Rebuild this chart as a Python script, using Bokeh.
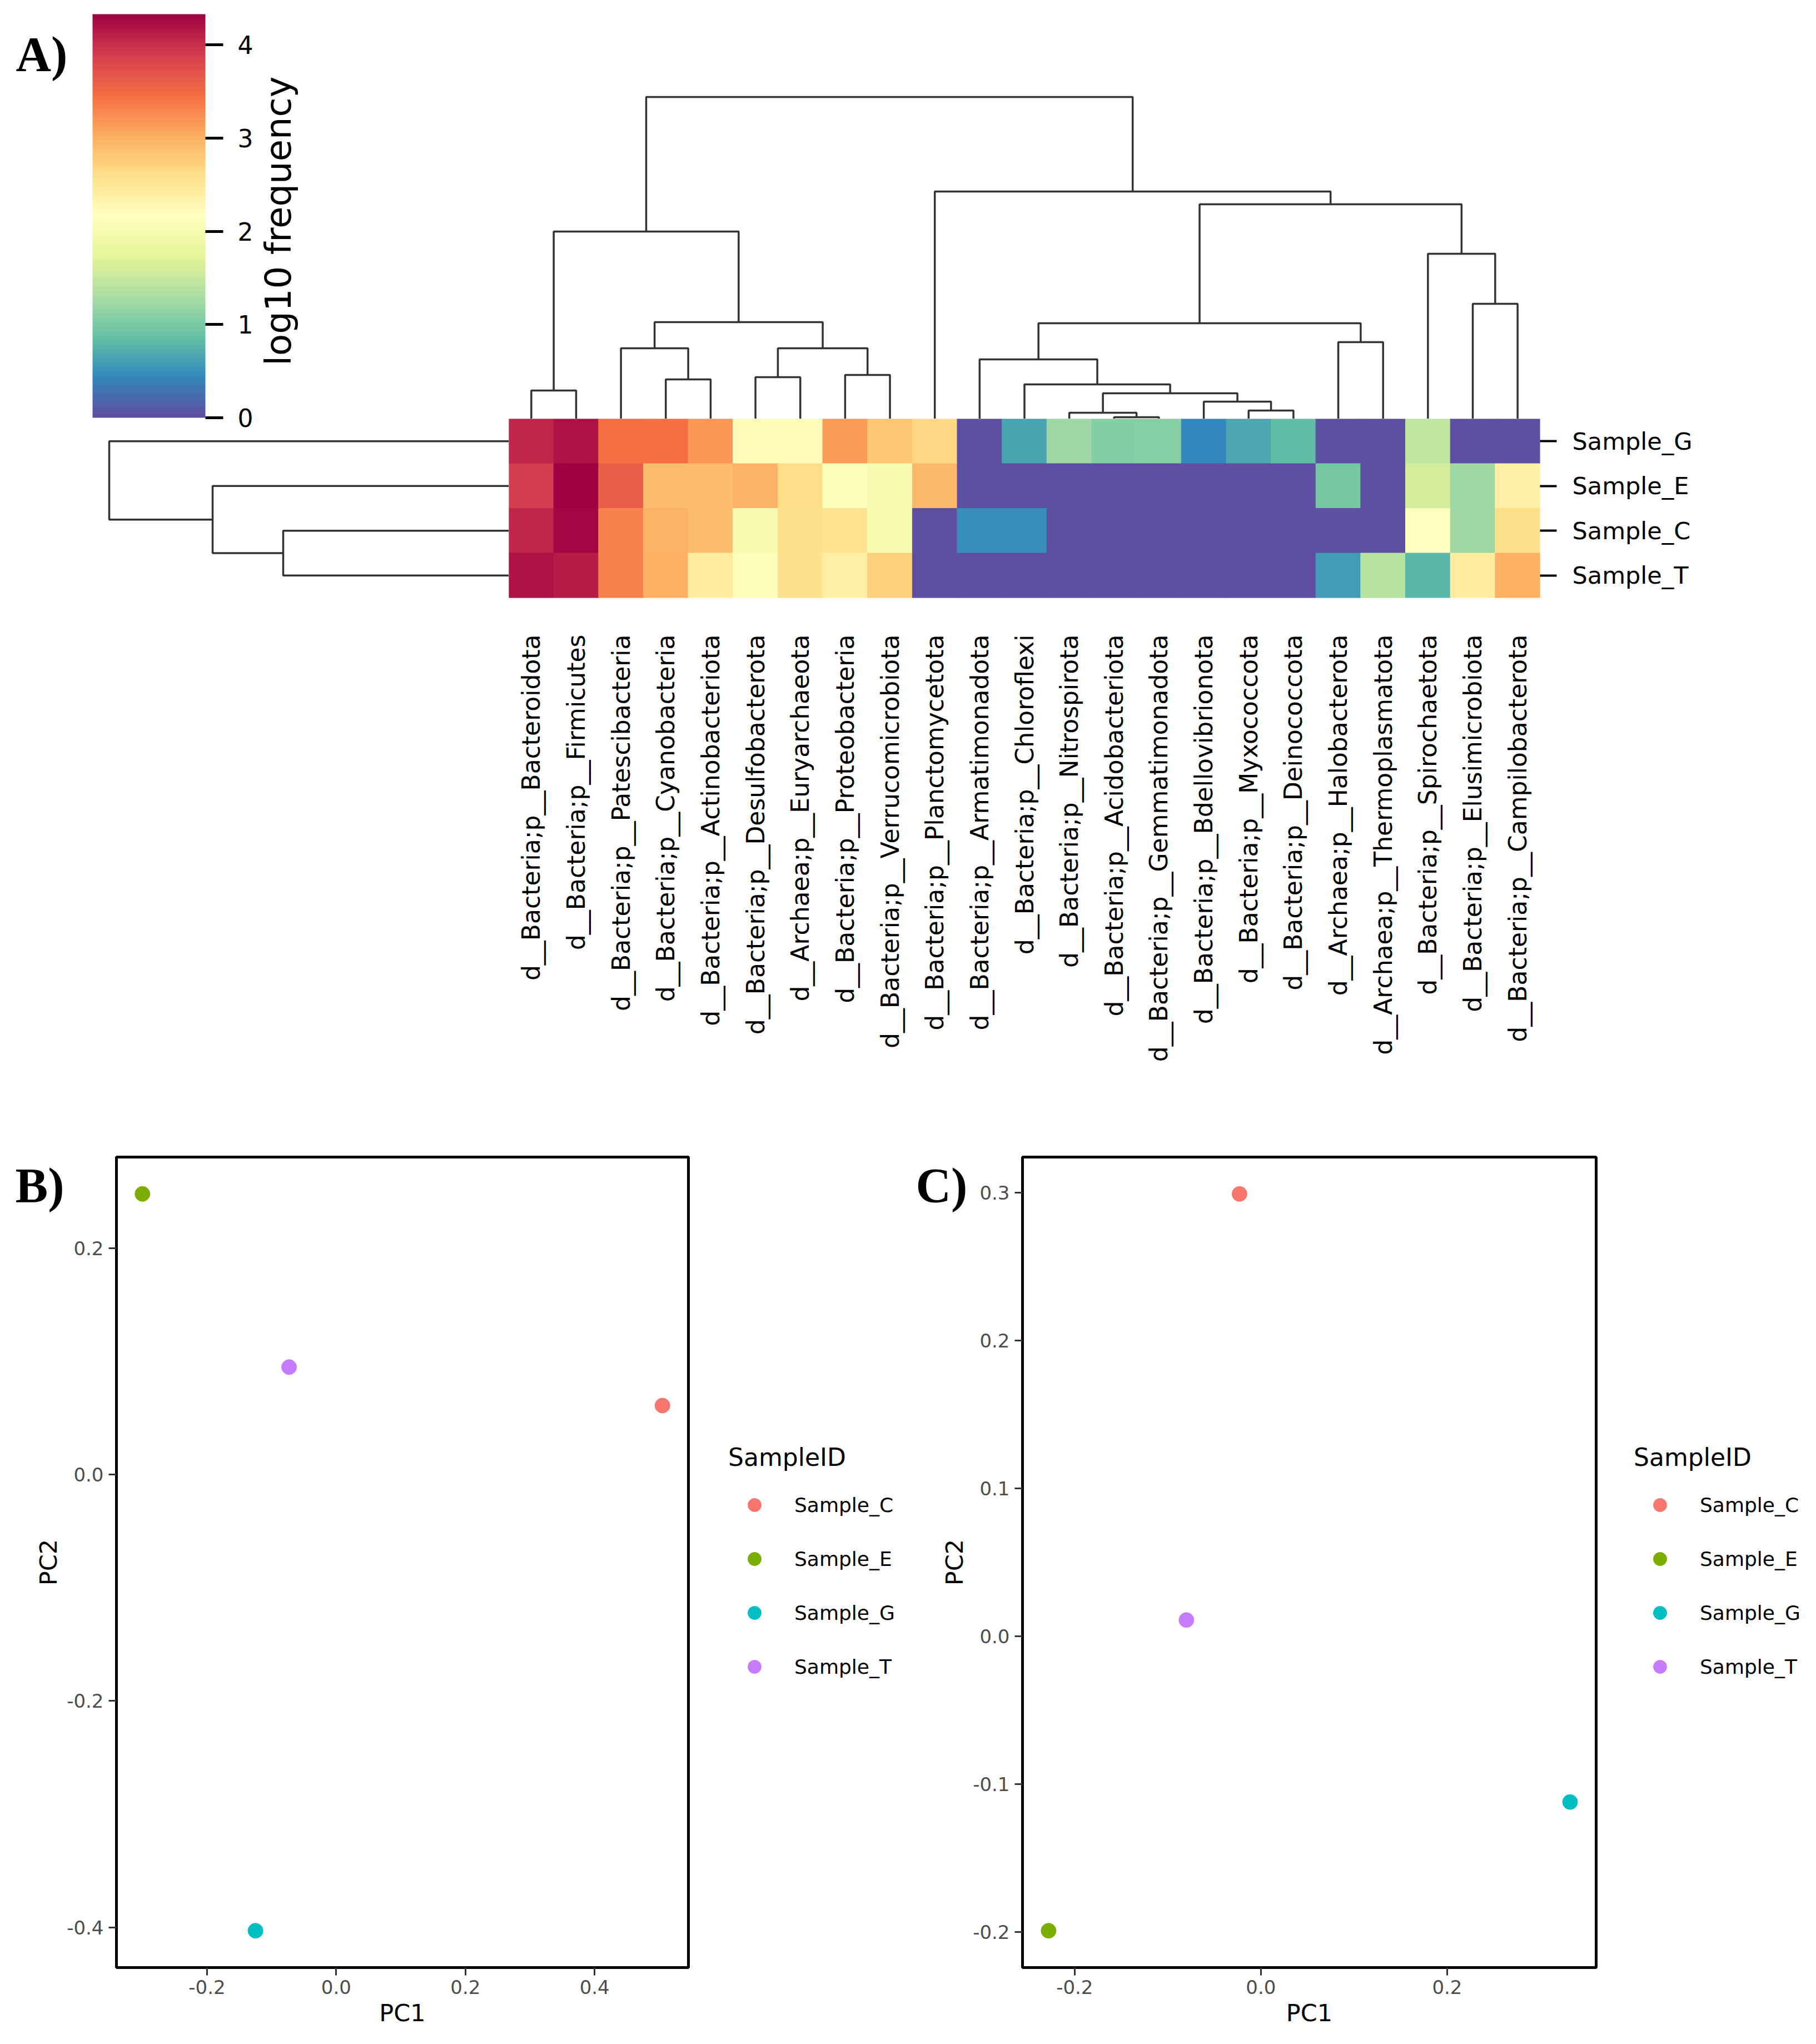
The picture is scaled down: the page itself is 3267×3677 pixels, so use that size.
import numpy as np
from bokeh.plotting import figure
from bokeh.models import (ColumnDataSource, FactorRange, Range1d, LinearColorMapper, ColorBar,
                          FixedTicker, Label, Legend, LegendItem, NumeralTickFormatter)
from bokeh.layouts import column, row
from bokeh.transform import linear_cmap
from bokeh.embed import file_html
from bokeh.resources import INLINE

# ---------------- data ----------------
phyla = [
    "d__Bacteria;p__Bacteroidota", "d__Bacteria;p__Firmicutes", "d__Bacteria;p__Patescibacteria",
    "d__Bacteria;p__Cyanobacteria", "d__Bacteria;p__Actinobacteriota", "d__Bacteria;p__Desulfobacterota",
    "d__Archaea;p__Euryarchaeota", "d__Bacteria;p__Proteobacteria", "d__Bacteria;p__Verrucomicrobiota",
    "d__Bacteria;p__Planctomycetota", "d__Bacteria;p__Armatimonadota", "d__Bacteria;p__Chloroflexi",
    "d__Bacteria;p__Nitrospirota", "d__Bacteria;p__Acidobacteriota", "d__Bacteria;p__Gemmatimonadota",
    "d__Bacteria;p__Bdellovibrionota", "d__Bacteria;p__Myxococcota", "d__Bacteria;p__Deinococcota",
    "d__Archaea;p__Halobacterota", "d__Archaea;p__Thermoplasmatota", "d__Bacteria;p__Spirochaetota",
    "d__Bacteria;p__Elusimicrobiota", "d__Bacteria;p__Campilobacterota",
]
heat_samples = ["Sample_G", "Sample_E", "Sample_C", "Sample_T"]
log_G = [4.07, 4.20, 3.46, 3.45, 3.18, 2.22, 2.23, 3.16, 2.84, 2.66, 0.0, 0.65, 1.23, 1.06, 1.07, 0.43, 0.66, 0.83, 0.0, 0.0, 1.47, 0.0, 0.0]
log_E = [3.90, 4.33, 3.60, 2.90, 2.90, 2.99, 2.62, 2.10, 2.00, 2.94, 0.0, 0.0, 0.0, 0.0, 0.0, 0.0, 0.0, 0.0, 0.97, 0.0, 1.60, 1.23, 2.38]
log_C = [4.07, 4.29, 3.33, 2.98, 2.90, 2.01, 2.58, 2.55, 2.00, 0.0, 0.48, 0.48, 0.0, 0.0, 0.0, 0.0, 0.0, 0.0, 0.0, 0.0, 2.17, 1.23, 2.60]
log_T = [4.20, 4.13, 3.33, 3.00, 2.42, 2.19, 2.58, 2.38, 2.73, 0.0, 0.0, 0.0, 0.0, 0.0, 0.0, 0.0, 0.0, 0.0, 0.58, 1.40, 0.78, 2.42, 3.00]
cbar_ticks = [0, 1, 2, 3, 4]

# column dendrogram: (child a, child b, distance); ids >= 23 are earlier merges
col_merges = [
    (0, 1, 0.51), (3, 4, 0.71), (2, 24, 1.27), (5, 6, 0.75), (7, 8, 0.79), (26, 27, 1.27),
    (25, 28, 1.74), (23, 29, 3.37), (13, 14, 0.03), (12, 31, 0.11), (16, 17, 0.15), (15, 33, 0.31),
    (32, 34, 0.46), (11, 35, 0.62), (10, 36, 1.07), (18, 19, 1.38), (37, 38, 1.72), (21, 22, 2.07),
    (20, 40, 2.97), (39, 41, 3.86), (9, 42, 4.09), (30, 43, 5.79),
]
# row dendrogram (leaves: G=0, E=1, C=2, T=3)
row_merges = [(2, 3, 4.06), (1, 4, 5.33), (0, 5, 7.19)]

pcoa_samples = ["Sample_C", "Sample_E", "Sample_G", "Sample_T"]
pcoa_colors = ["#F8766D", "#7CAE00", "#00BFC4", "#C77CFF"]
b_pc1 = [0.505, -0.300, -0.125, -0.073]
b_pc2 = [0.061, 0.248, -0.403, 0.095]
c_pc1 = [-0.023, -0.228, 0.332, -0.080]
c_pc2 = [0.299, -0.199, -0.112, 0.011]
b_xticks = [-0.2, 0.0, 0.2, 0.4]
b_yticks = [-0.4, -0.2, 0.0, 0.2]
c_xticks = [-0.2, 0.0, 0.2]
c_yticks = [-0.2, -0.1, 0.0, 0.1, 0.2, 0.3]

# ---------------- helpers ----------------
SPECTRAL = ["#9e0142", "#d53e4f", "#f46d43", "#fdae61", "#fee08b", "#ffffbf",
            "#e6f598", "#abdda4", "#66c2a5", "#3288bd", "#5e4fa2"][::-1]


def interp_palette(pal, n):
    rgb = np.array([[int(c[i:i + 2], 16) for i in (1, 3, 5)] for c in pal], float)
    k = np.linspace(0, 1, len(pal))
    t = np.linspace(0, 1, n)
    out = np.stack([np.interp(t, k, rgb[:, j]) for j in range(3)], 1)
    return ["#%02x%02x%02x" % tuple(int(round(v)) for v in r) for r in out]


PAL = interp_palette(SPECTRAL, 256)
SANS = "DejaVu Sans"
SERIF = "Liberation Serif"
LINE = "#333333"


def dendro_segments(merges, leaf_pos):
    n = len(leaf_pos)
    pos = {i: float(leaf_pos[i]) for i in range(n)}
    ht = {i: 0.0 for i in range(n)}
    along, depth = [], []
    for k, (a, b, h) in enumerate(merges):
        along.append([pos[a], pos[a], pos[b], pos[b]])
        depth.append([ht[a], h, h, ht[b]])
        pos[n + k] = (pos[a] + pos[b]) / 2
        ht[n + k] = h
    return along, depth


def bare(p, transparent=False):
    p.outline_line_color = None
    if transparent:
        p.background_fill_color = None
        p.border_fill_color = None
    else:
        p.background_fill_color = "white"
        p.border_fill_color = "white"
    for g in p.grid:
        g.visible = False


# ---------------- panel A ----------------
values_by_row = [log_G, log_E, log_C, log_T]
vmax = max(max(r) for r in values_by_row)

TOP_ROW_H = 753
LEFT_W = 915
HEAT_W = 1855
ROW_PX = 80.5
HEAT_H = 322
RIGHT_B = 481
BOTTOM_B = 965
nrow = len(heat_samples)
ncol = len(phyla)

# left figure: colour bar + row dendrogram
left_frame_h = TOP_ROW_H + HEAT_H
fig_left = figure(width=LEFT_W, height=left_frame_h + BOTTOM_B,
                  x_range=Range1d(LEFT_W / 100.0, 0), y_range=Range1d(0, left_frame_h / ROW_PX),
                  x_axis_location=None, y_axis_location=None, toolbar_location=None,
                  output_backend="svg", title=None, min_border=0, min_border_bottom=BOTTOM_B)
bare(fig_left)
rleaf = [nrow - 1 - i + 0.5 for i in range(nrow)]
ry, rx = dendro_segments(row_merges, rleaf)
fig_left.multi_line(xs=rx, ys=ry, line_color=LINE, line_width=3.5)

mapper = LinearColorMapper(palette=PAL, low=0, high=vmax)
cb = ColorBar(color_mapper=mapper, location=(166, HEAT_H + 2), width=203, height=726, padding=0, margin=0,
              ticker=FixedTicker(ticks=cbar_ticks), major_tick_in=0, major_tick_out=32,
              major_tick_line_color="black", major_tick_line_width=5, minor_tick_line_color=None,
              label_standoff=26, major_label_text_font=SANS, major_label_text_font_size="44px",
              major_label_text_color="black", bar_line_color=None, border_line_color=None,
              background_fill_color=None)
fig_left.add_layout(cb)
fig_left.add_layout(Label(x=500, y=left_frame_h - 397, x_units="screen", y_units="screen",
                          text="log10 frequency", angle=np.pi / 2, text_align="center",
                          text_baseline="middle", text_font=SANS, text_font_size="64px",
                          text_color="black"))
fig_left.add_layout(Label(x=28, y=left_frame_h - 97, x_units="screen", y_units="screen", text="A)",
                          text_align="left", text_baseline="alphabetic", text_font=SERIF,
                          text_font_style="bold", text_font_size="88px", text_color="black"))

# column dendrogram
cx, cy = dendro_segments(col_merges, list(range(ncol)))
fig_cd = figure(width=HEAT_W + RIGHT_B, height=TOP_ROW_H,
                x_range=Range1d(-0.5, ncol - 0.5), y_range=Range1d(0, TOP_ROW_H / 100.0),
                x_axis_location=None, y_axis_location=None, toolbar_location=None,
                output_backend="svg", title=None, min_border=0, min_border_right=RIGHT_B)
bare(fig_cd)
fig_cd.multi_line(xs=cx, ys=cy, line_color=LINE, line_width=3.5)

# heatmap
hx, hy, hv = [], [], []
for s, vals in zip(heat_samples, values_by_row):
    for ph, v in zip(phyla, vals):
        hx.append(ph)
        hy.append(s)
        hv.append(v)
src = ColumnDataSource(dict(phylum=hx, sample=hy, value=hv))
fig_h = figure(width=HEAT_W + RIGHT_B, height=HEAT_H + BOTTOM_B,
               x_range=FactorRange(factors=phyla), y_range=FactorRange(factors=heat_samples[::-1]),
               x_axis_location="below", y_axis_location="right", toolbar_location=None,
               output_backend="svg", title=None, min_border=0,
               min_border_right=RIGHT_B, min_border_bottom=BOTTOM_B)
bare(fig_h)
cmap = linear_cmap("value", PAL, 0, vmax)
fig_h.rect(x="phylum", y="sample", width=1, height=1, source=src,
           fill_color=cmap, line_color=cmap, line_width=1)
xa = fig_h.xaxis[0]
xa.major_label_orientation = np.pi / 2
xa.major_tick_line_color = None
xa.major_tick_out = 0
xa.major_tick_in = 0
xa.axis_line_color = None
xa.major_label_standoff = 66
xa.major_label_text_font = SANS
xa.major_label_text_font_size = "44px"
xa.major_label_text_color = "black"
ya = fig_h.yaxis[0]
ya.major_tick_out = 30
ya.major_tick_in = 0
ya.major_tick_line_color = "black"
ya.major_tick_line_width = 4
ya.axis_line_color = None
ya.major_label_standoff = 28
ya.major_label_text_font = SANS
ya.major_label_text_font_size = "43px"
ya.major_label_text_color = "black"


# ---------------- panels B and C ----------------
SECTION_H = 1621
FRAME_H = 1458
TOP_B = 41
BOT_B = SECTION_H - TOP_B - FRAME_H


def expand(vals, f=0.05):
    lo, hi = min(vals), max(vals)
    d = (hi - lo) * f
    return lo - d, hi + d


def pcoa_fig(pc1, pc2, xticks, yticks, left_b, frame_w, right_b):
    p = figure(width=left_b + frame_w + right_b, height=SECTION_H,
               x_range=Range1d(*expand(pc1)), y_range=Range1d(*expand(pc2)),
               toolbar_location=None, output_backend="svg", title=None,
               min_border_left=left_b, min_border_right=right_b,
               min_border_top=TOP_B, min_border_bottom=BOT_B)
    p.background_fill_color = "white"
    p.border_fill_color = "white"
    for g in p.grid:
        g.visible = False
    p.outline_line_color = "black"
    p.outline_line_width = 5
    for x, y, c in zip(pc1, pc2, pcoa_colors):
        p.scatter([x], [y], size=27, fill_color=c, line_color=c)
    for ax, ticks, lab in ((p.xaxis[0], xticks, "PC1"), (p.yaxis[0], yticks, "PC2")):
        ax.ticker = FixedTicker(ticks=ticks)
        ax.formatter = NumeralTickFormatter(format="0.0")
        ax.minor_tick_line_color = None
        ax.axis_line_color = None
        ax.major_tick_in = 0
        ax.major_tick_out = 14
        ax.major_tick_line_color = "#333333"
        ax.major_tick_line_width = 3
        ax.major_label_text_font = SANS
        ax.major_label_text_font_size = "34px"
        ax.major_label_text_color = "#4d4d4d"
        ax.axis_label = lab
        ax.axis_label_text_font = SANS
        ax.axis_label_text_font_size = "43px"
        ax.axis_label_text_font_style = "normal"
        ax.axis_label_text_color = "black"
    p.xaxis[0].major_label_standoff = 8
    p.xaxis[0].axis_label_standoff = 6
    p.yaxis[0].major_label_standoff = 9
    p.yaxis[0].axis_label_standoff = 5
    return p


B_W = 1640
B_LEFT, B_FRAME = 209, 1029
C_LEFT, C_FRAME = 199, 1032
fig_B = pcoa_fig(b_pc1, b_pc2, b_xticks, b_yticks, B_LEFT, B_FRAME, B_W - B_LEFT - B_FRAME)
fig_C = pcoa_fig(c_pc1, c_pc2, c_xticks, c_yticks, C_LEFT, C_FRAME, 3251 - B_W - C_LEFT - C_FRAME)

# transparent overlay over panels B and C: panel letters and the two SampleID legends
overlay = figure(width=3251, height=SECTION_H, x_range=(0, 1), y_range=(0, 1),
                 x_axis_location=None, y_axis_location=None, toolbar_location=None,
                 output_backend="svg", title=None, min_border=0,
                 margin=(-SECTION_H, 0, 0, 0))
bare(overlay, transparent=True)
for letter, lx in (("B)", 27), ("C)", 1647)):
    overlay.add_layout(Label(x=lx, y=SECTION_H - 92, x_units="screen", y_units="screen", text=letter,
                             text_align="left", text_baseline="alphabetic", text_font=SERIF,
                             text_font_style="bold", text_font_size="88px", text_color="black"))

for frame_right, dx in ((B_LEFT + B_FRAME, 72), (B_W + C_LEFT + C_FRAME, 68)):
    items = []
    for name, c in zip(pcoa_samples, pcoa_colors):
        # legend key only: the point itself is drawn in the panel above
        r = overlay.scatter(x=[float("nan")], y=[float("nan")], size=27, fill_color=c, line_color=c)
        items.append(LegendItem(label=name, renderers=[r]))
    lg = Legend(items=items, location=(frame_right + dx, BOT_B + 511), title="SampleID",
                title_text_font=SANS, title_text_font_size="44px", title_text_font_style="normal",
                title_text_color="black", title_standoff=30,
                label_text_font=SANS, label_text_font_size="36px", label_text_color="black",
                glyph_width=94, glyph_height=60, label_standoff=25, spacing=37,
                padding=10, margin=0, border_line_color=None, background_fill_alpha=0)
    overlay.add_layout(lg)

layout = column(row(fig_left, column(fig_cd, fig_h)), row(fig_B, fig_C), overlay)
open("out.html", "w").write(file_html(layout, INLINE))
